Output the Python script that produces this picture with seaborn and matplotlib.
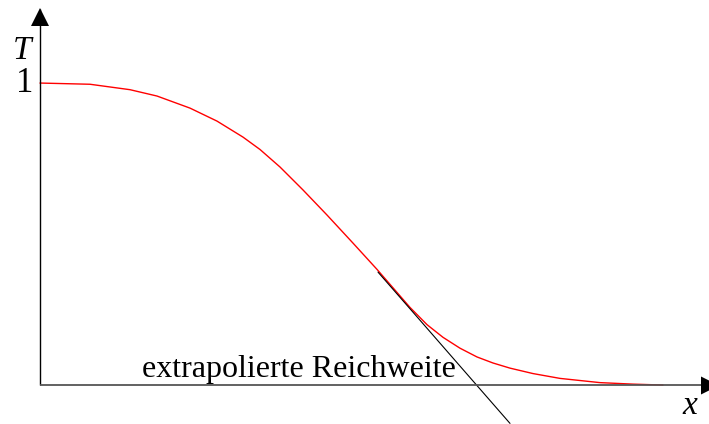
import matplotlib
matplotlib.use("Agg")
import matplotlib.pyplot as plt
from matplotlib.patches import Polygon
import seaborn as sns
import pandas as pd

# Transmission curve T(x)
depth = [0.0, 0.5, 0.9, 1.17, 1.5, 1.77, 2.03, 2.2, 2.4, 2.63, 2.87, 3.13, 3.37,
         3.53, 3.7, 3.87, 4.03, 4.2, 4.37, 4.53, 4.7, 4.93, 5.2, 5.6, 5.93, 6.23]
transmission = [1.0, 0.996, 0.978, 0.957, 0.917, 0.874, 0.821, 0.78, 0.722, 0.646,
                0.563, 0.47, 0.383, 0.322, 0.257, 0.2, 0.158, 0.122, 0.093, 0.073,
                0.056, 0.038, 0.022, 0.008, 0.003, 0.0]

# Tangent at the inflection point, extended to the x axis
tangent_x = [3.38, 4.70]
tangent_T = [0.374, -0.127]

range_label = "extrapolierte Reichweite"

W, H, DPI = 709, 424, 100
sns.set_theme(style="white")
plt.rcParams["font.family"] = ["Liberation Serif", "DejaVu Serif"]
plt.rcParams["text.color"] = "black"

fig = plt.figure(figsize=(W / DPI, H / DPI), dpi=DPI)
ax = fig.add_axes([0, 0, 1, 1])
ax.set_xlim(-0.40, 6.69)
ax.set_ylim(-0.129, 1.275)
ax.axis("off")

curve = pd.DataFrame({"x": depth, "T": transmission})
sns.lineplot(data=curve, x="x", y="T", color="#ff0000", lw=1.0, ax=ax, sort=False)
tan = pd.DataFrame({"x": tangent_x, "T": tangent_T})
sns.lineplot(data=tan, x="x", y="T", color="black", lw=0.8, ax=ax, sort=False)

# Coordinate axes
ax.plot([0, 0], [0, 1.245], color="black", lw=1.0, solid_capstyle="butt")
ax.plot([0, 6.62], [0, 0], color="#555555", lw=1.3, solid_capstyle="butt")

def px(xp, yp):
    return (xp / W, 1 - yp / H)

# Arrowheads
fig.patches.append(Polygon([px(40, 8), px(31, 26), px(49, 26)], closed=True,
                           transform=fig.transFigure, color="black", lw=0))
fig.patches.append(Polygon([px(719, 385.5), px(701, 376.5), px(701, 394.5)], closed=True,
                           transform=fig.transFigure, color="black", lw=0))

# Labels
ax.text(-0.07, 1.0, "1", ha="right", va="center", fontsize=25, color="black")
ax.text(-0.18, 1.108, "T", ha="center", va="center", fontsize=24,
        fontstyle="italic", color="black")
ax.text(6.50, -0.067, "x", ha="center", va="center", fontsize=24,
        fontstyle="italic", color="black")
ax.text(1.02, 0.025, range_label, ha="left", va="baseline", fontsize=23, color="black")

fig.savefig("out.png", dpi=DPI, facecolor="white")
